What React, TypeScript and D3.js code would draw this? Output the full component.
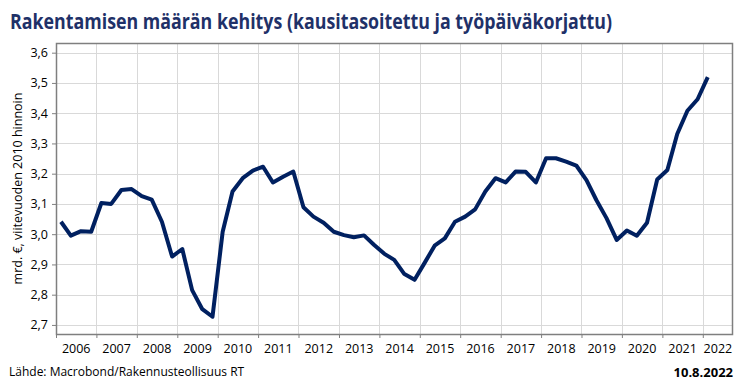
import React, { useEffect, useRef } from 'react';
import * as d3 from 'd3';

// quarterly values 2006Q1 .. 2022Q1, mrd. €
const startYear = 2006;
const values = [
  3.041, 2.995, 3.010, 3.008, 3.103, 3.100, 3.146, 3.149,
  3.126, 3.114, 3.041, 2.926, 2.951, 2.815, 2.752, 2.727,
  3.008, 3.141, 3.185, 3.210, 3.223, 3.171, 3.190, 3.207,
  3.089, 3.058, 3.038, 3.008, 2.997, 2.990, 2.996, 2.964,
  2.935, 2.915, 2.868, 2.849, 2.906, 2.962, 2.986, 3.041,
  3.058, 3.082, 3.141, 3.185, 3.171, 3.207, 3.206, 3.171,
  3.251, 3.251, 3.240, 3.227, 3.179, 3.113, 3.053, 2.981,
  3.012, 2.995, 3.038, 3.181, 3.212, 3.331, 3.408, 3.446,
  3.519,
];
const years = d3.range(2006, 2023);
const yTicks = [2.7, 2.8, 2.9, 3.0, 3.1, 3.2, 3.3, 3.4, 3.5, 3.6];

const title = 'Rakentamisen määrän kehitys (kausitasoitettu ja työpäiväkorjattu)';
const yTitle = 'mrd. €, viitevuoden 2010 hinnoin';
const source = 'Lähde: Macrobond/Rakennusteollisuus RT';
const dateText = '10.8.2022';

const App = () => {
  const ref = useRef<SVGSVGElement>(null);

  useEffect(() => {
    document.body.style.margin = '0';
    const width = 750;
    const height = 388;
    const margin = { top: 43, right: 17, bottom: 54, left: 56 };
    const font = '"Open Sans", sans-serif';

    const svg = d3.select(ref.current)
      .attr('width', width)
      .attr('height', height)
      .style('display', 'block')
      .style('background', '#fff');
    svg.selectAll('*').remove();

    const xEnd = new Date(2022, 9, 1);
    const x = d3.scaleTime()
      .domain([new Date(2006, 0, 1), xEnd])
      .range([margin.left, width - margin.right]);
    const y = d3.scaleLinear()
      .domain([2.67, 3.632])
      .range([height - margin.bottom, margin.top]);

    const data = values.map((v, i) => ({
      date: new Date(startYear + Math.floor(i / 4), (i % 4) * 3 + 1, 15),
      value: v,
    }));

    const fmt = (d: number) => d3.format('.1f')(d).replace('.', ',');

    // grid
    const grid = svg.append('g').attr('stroke', '#d9d9d9').attr('stroke-width', 1);
    grid.selectAll('line.h')
      .data(yTicks)
      .join('line')
        .attr('class', 'h')
        .attr('x1', margin.left)
        .attr('x2', width - margin.right)
        .attr('y1', d => Math.round(y(d)) + 0.5)
        .attr('y2', d => Math.round(y(d)) + 0.5);
    grid.selectAll('line.v')
      .data(years.slice(1))
      .join('line')
        .attr('class', 'v')
        .attr('x1', d => Math.round(x(new Date(d, 0, 1))) + 0.5)
        .attr('x2', d => Math.round(x(new Date(d, 0, 1))) + 0.5)
        .attr('y1', margin.top)
        .attr('y2', height - margin.bottom);

    // y axis
    svg.append('g')
      .attr('transform', `translate(${margin.left},0)`)
      .call(d3.axisLeft(y).tickValues(yTicks).tickFormat(fmt as any).tickSize(4).tickPadding(4))
      .call(g => g.select('.domain').remove())
      .call(g => g.selectAll('line').attr('stroke', '#808080'))
      .call(g => g.selectAll('text')
        .attr('fill', '#000')
        .style('font-family', font)
        .style('font-size', '12.5px'));

    // x axis ticks at year boundaries
    svg.append('g')
      .attr('transform', `translate(0,${height - margin.bottom})`)
      .call(d3.axisBottom(x)
        .tickValues(years.map(yr => new Date(yr, 0, 1)))
        .tickFormat(() => '')
        .tickSize(4))
      .call(g => g.select('.domain').remove())
      .call(g => g.selectAll('line').attr('stroke', '#808080'));

    // year labels centred in the visible part of each year
    svg.append('g')
      .selectAll('text')
      .data(years)
      .join('text')
        .attr('x', d => {
          const a = x(new Date(d, 0, 1));
          const b = Math.min(x(new Date(d + 1, 0, 1)), x(xEnd));
          return (a + b) / 2;
        })
        .attr('y', height - margin.bottom + 19)
        .attr('text-anchor', 'middle')
        .style('font-family', font)
        .style('font-size', '12.5px')
        .text(d => String(d));

    // plot frame
    svg.append('rect')
      .attr('x', margin.left + 0.5)
      .attr('y', margin.top + 0.5)
      .attr('width', width - margin.left - margin.right - 1)
      .attr('height', height - margin.top - margin.bottom)
      .attr('fill', 'none')
      .attr('stroke', '#7f7f7f')
      .attr('stroke-width', 1.5);

    // line
    const line = d3.line<{ date: Date; value: number }>()
      .x(d => x(d.date))
      .y(d => y(d.value));
    svg.append('path')
      .datum(data)
      .attr('d', line)
      .attr('fill', 'none')
      .attr('stroke', '#002060')
      .attr('stroke-width', 4)
      .attr('stroke-linejoin', 'round');

    // texts
    svg.append('text')
      .attr('x', 10)
      .attr('y', 29)
      .attr('fill', '#1f3168')
      .attr('textLength', 602)
      .attr('lengthAdjust', 'spacingAndGlyphs')
      .style('font-family', '"Liberation Sans Narrow", "Open Sans", sans-serif')
      .style('font-weight', 'bold')
      .style('font-size', '21px')
      .text(title);

    svg.append('text')
      .attr('transform', `translate(22,${(margin.top + height - margin.bottom) / 2}) rotate(-90)`)
      .attr('text-anchor', 'middle')
      .style('font-family', font)
      .style('font-size', '12.5px')
      .text(yTitle);

    svg.append('text')
      .attr('x', 9)
      .attr('y', 376)
      .style('font-family', font)
      .style('font-size', '12px')
      .text(source);

    svg.append('text')
      .attr('x', 733)
      .attr('y', 377)
      .attr('text-anchor', 'end')
      .style('font-family', font)
      .style('font-weight', 'bold')
      .style('font-size', '13px')
      .text(dateText);
  }, []);

  return <svg ref={ref} />;
};

export default App;
